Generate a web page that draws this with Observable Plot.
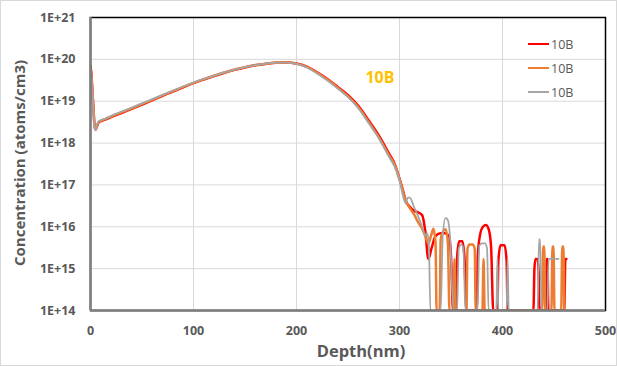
<!DOCTYPE html>
<html>
<head>
<meta charset="utf-8">
<script src="https://cdn.jsdelivr.net/npm/d3@7"></script>
<script src="https://cdn.jsdelivr.net/npm/@observablehq/plot@0.6"></script>
<style>
  html, body { margin: 0; padding: 0; background: #fff; }
  #wrap { position: relative; width: 617px; height: 366px; overflow: hidden; font-family: "Open Sans", Lato, sans-serif; }
  #wrap::after { content: ""; position: absolute; inset: 0; border: 1px solid #d9d9d9; pointer-events: none; }
  #legend { position: absolute; left: 528px; top: 32px; font-size: 12.5px; color: #595959; }
  .lg { display: flex; align-items: center; height: 24px; }
  .sw { width: 21px; margin-right: 2px; }
</style>
</head>
<body>
<div id="wrap"><div id="legend"></div></div>
<script>
// Series names and colours
const seriesNames = ["10B", "10B", "10B"];
const seriesColors = ["#ff0000", "#ed7d31", "#a5a5a5"];
const seriesWidths = [2.5, 2.5, 1.75];

// Axis ticks
const xTicks = [0, 100, 200, 300, 400, 500];
const yTicks = [1e14, 1e15, 1e16, 1e17, 1e18, 1e19, 1e20, 1e21];
const yTickLabels = ["1E+14", "1E+15", "1E+16", "1E+17", "1E+18", "1E+19", "1E+20", "1E+21"];

// Annotation
const noteText = ["10B"];
const noteDepth = [281];
const noteConc = [3.7e19];

// Series 1 (red)
const redDepth = [0,1,2,3,4,5,6,8,11,15,20,30,40,50,60,70,80,90,100,110,120,130,140,150,160,170,180,190,200,210,220,230,240,250,260,270,280,290,295,
  300,303,306,310,314,318,322,325,328,331,335,340,344,348,350,352,355,356,358,361,363,365,375,376,378,381,384,387,389,391,395,396,398,402,404,405,430,431,432,434,435,436,442,443,443.7,444.5,460,461,462];
const redConc = [7e19,4e19,1.5e19,6e18,2.5e18,2.1e18,2.4e18,3.1e18,3.4e18,3.7e18,4.2e18,5.2e18,6.6e18,8.3e18,1.05e19,1.35e19,1.7e19,2.15e19,2.7e19,3.3e19,4.0e19,4.8e19,5.6e19,6.4e19,7.2e19,7.8e19,8.3e19,8.4e19,8.0e19,6.7e19,4.9e19,3.4e19,2.2e19,1.4e19,7.8e18,3.5e18,1.5e18,5.5e17,3.3e17,
  1.4e17,8e16,4.2e16,3e16,2.4e16,2.2e16,1.9e16,8e15,1.7e15,3e15,6e15,7e15,7e15,6e15,2e15,1e14,1e14,2e15,4.5e15,4.5e15,2e15,1e14,1e14,2e15,6e15,1e16,1.1e16,8e15,3e15,1e14,1e14,1.5e15,3.6e15,3.6e15,1.5e15,1e14,1e14,1e15,1.7e15,1.7e15,1e15,1e14,1e14,1.7e15,1.7e15,1e14,1e14,1.7e15,1.7e15];

// Series 2 (orange)
const orangeDepth = [0,1,2,3,4,5,6,8,11,15,20,30,40,50,60,70,80,90,100,110,120,130,140,150,160,170,180,190,200,210,220,230,240,250,260,270,280,290,295,
  300,303,306,310,314,318,322,325,328,330.5,333,335,336,339,340,342,344.7,347,348.5,352.5,353.4,354.5,365,366,368,371,373,374,380.5,381.6,382.7,438.5,439.5,440.5,441.5,447.5,448.5,449.5,450.5,457,458,459,460];
const orangeConc = [6.5e19,3.8e19,1.4e19,5.5e18,2.4e18,2.1e18,2.5e18,3.2e18,3.5e18,3.8e18,4.3e18,5.4e18,6.8e18,8.6e18,1.08e19,1.38e19,1.75e19,2.2e19,2.75e19,3.35e19,4.05e19,4.85e19,5.7e19,6.5e19,7.3e19,7.9e19,8.3e19,8.4e19,7.9e19,6.6e19,4.8e19,3.3e19,2.1e19,1.3e19,7.2e18,3.2e18,1.35e18,5e17,3.1e17,
  1.4e17,7.5e16,4.2e16,2.8e16,2e16,1.3e16,9e15,6e15,4e15,6e15,9e15,4e15,1e14,1e14,5e15,7.5e15,8.7e15,4e15,1e14,1e14,1.7e15,1e14,1e14,3e15,3.8e15,3.8e15,3e15,1e14,1e14,1.7e15,1e14,1e14,3.4e15,3.4e15,1e14,1e14,3.4e15,3.4e15,1e14,1e14,3.4e15,3.4e15,1e14];

// Series 3 (gray)
const grayDepth = [0,1,2,3,4,5,6,8,11,15,20,30,40,50,60,70,80,90,100,110,120,130,140,150,160,170,180,190,200,210,220,230,240,250,260,270,280,290,295,
  300,303,306,308,310,314,318,322,325,327,328.5,330,340,342,344.7,346.6,349,352.4,356,357.5,360.2,362,364,375.7,377.5,380,383,385,386.5,394,395,396,404,405,406,434,435.5,436.5,438,443.7,444.7,454.4];
const grayConc = [6.2e19,3.5e19,1.3e19,5e18,2.3e18,2.0e18,2.6e18,3.3e18,3.6e18,3.9e18,4.5e18,5.6e18,7.0e18,8.9e18,1.12e19,1.42e19,1.8e19,2.25e19,2.8e19,3.4e19,4.1e19,4.9e19,5.7e19,6.5e19,7.3e19,7.9e19,8.3e19,8.3e19,7.8e19,6.4e19,4.6e19,3.1e19,2.0e19,1.25e19,6.8e18,3.0e18,1.3e18,4.6e17,2.8e17,
  1.3e17,6e16,3.6e16,5e16,5e16,3e16,1.8e16,1e16,6e15,7e15,4e15,1e14,1e14,6e15,1.6e16,1.5e16,6e15,1e14,1e14,3e15,3.8e15,3e15,1e14,1e14,3.5e15,4e15,4e15,3e15,1e14,1e14,1.7e15,1e14,1e14,1.7e15,1e14,1e14,5e15,5e15,1e14,1e14,1.7e15,1.7e15];

const toRows = (ds, cs) => ds.map((d, i) => ({depth: d, conc: cs[i]}));
const series = [toRows(redDepth, redConc), toRows(orangeDepth, orangeConc), toRows(grayDepth, grayConc)];
const notes = noteText.map((t, i) => ({t, depth: noteDepth[i], conc: noteConc[i]}));

const axisColor = "#595959";
const chart = Plot.plot({
  width: 617,
  height: 366,
  marginLeft: 90,
  marginRight: 12,
  marginTop: 17,
  marginBottom: 56,
  style: {fontFamily: "'Open Sans', Lato, sans-serif", background: "transparent", overflow: "visible"},
  x: {domain: [0, 500]},
  y: {type: "log", domain: [1e14, 1e21]},
  marks: [
    Plot.gridX(xTicks, {stroke: "#d9d9d9", strokeOpacity: 1, strokeWidth: 1}),
    Plot.gridY(yTicks, {stroke: "#d9d9d9", strokeOpacity: 1, strokeWidth: 1}),
    ...series.map((rows, i) => Plot.line(rows, {x: "depth", y: "conc", stroke: seriesColors[i], strokeWidth: seriesWidths[i], curve: "monotone-x", clip: true})),
    Plot.frame({stroke: "#000", strokeWidth: 1.5}),
    Plot.ruleX([0], {stroke: "#7f7f7f", strokeWidth: 2.5}),
    Plot.ruleY([1e14], {stroke: "#7f7f7f", strokeWidth: 2.5}),
    Plot.axisX(xTicks, {tickSize: 0, tickPadding: 16, fontSize: 12.5, fontWeight: "bold", fill: axisColor, label: null}),
    Plot.axisY(yTicks, {tickSize: 0, tickPadding: 15, fontSize: 12.5, fontWeight: "bold", fill: axisColor, label: null, tickFormat: (d) => yTickLabels[yTicks.indexOf(d)]}),
    Plot.text(["Depth(nm)"], {frameAnchor: "bottom", dx: 13, dy: 46, fontSize: 16.5, fontWeight: "bold", fill: axisColor}),
    Plot.text(["Concentration (atoms/cm3)"], {frameAnchor: "left", dx: -70, dy: -1, rotate: -90, textAnchor: "middle", fontSize: 15, fontWeight: "bold", fill: axisColor}),
    Plot.text(notes, {x: "depth", y: "conc", text: "t", fontSize: 16, fontWeight: "bold", fill: "#ffc000"})
  ]
});
document.getElementById("wrap").prepend(chart);

const legend = d3.select("#legend");
seriesNames.forEach((n, i) => {
  const row = legend.append("div").attr("class", "lg");
  row.append("div").attr("class", "sw").style("height", seriesWidths[i] + "px").style("background", seriesColors[i]);
  row.append("span").text(n);
});
</script>
</body>
</html>
